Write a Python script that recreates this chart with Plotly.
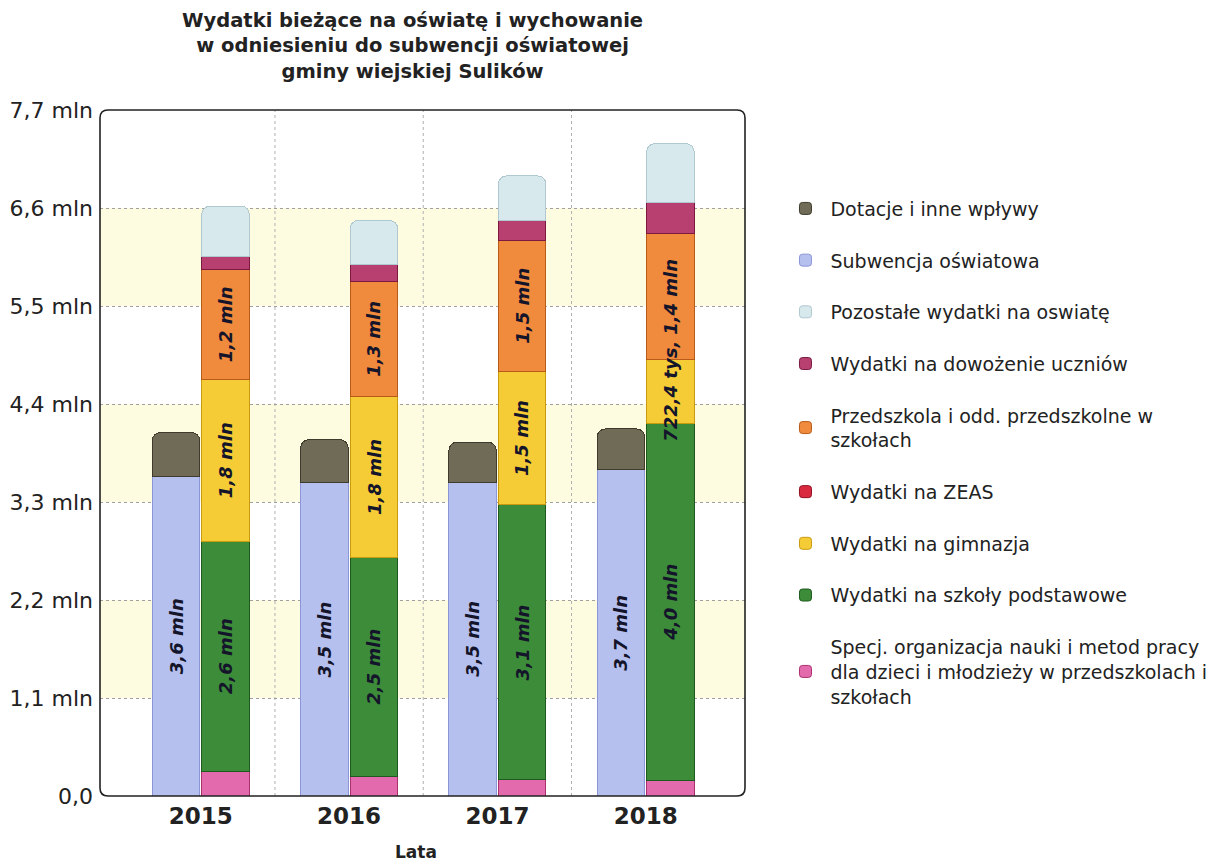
import plotly.graph_objects as go

years = ["2015", "2016", "2017", "2018"]

# values in mln PLN
subwencja = [3.59, 3.52, 3.52, 3.66]
dotacje = [0.49, 0.48, 0.45, 0.46]
specj = [0.27, 0.22, 0.18, 0.17]
podstawowe = [2.59, 2.46, 3.09, 4.01]
gimnazja = [1.81, 1.80, 1.50, 0.7224]
zeas = [0.0, 0.0, 0.0, 0.0]
przedszkola = [1.24, 1.30, 1.47, 1.41]
dowozenie = [0.15, 0.19, 0.22, 0.35]
pozostale = [0.56, 0.49, 0.50, 0.66]

ytick_vals = [0, 1.1, 2.2, 3.3, 4.4, 5.5, 6.6, 7.7]
ytick_text = ["0,0", "1,1 mln", "2,2 mln", "3,3 mln", "4,4 mln", "5,5 mln", "6,6 mln", "7,7 mln"]

FONT = "DejaVu Sans"
TXT = "#14142a"
AX = "#222222"


def fmt(v):
    if v >= 1:
        return f"{v:.1f} mln".replace(".", ",")
    return f"{v*1000:.1f} tys.".replace(".", ",")


idx = list(range(len(years)))
xl = [i - 0.167 for i in idx]
xr = [i + 0.167 for i in idx]
W = 0.32

fig = go.Figure()

# (name, values, color, line color, stack side, show labels)
series = [
    ("Specj. organizacja nauki i metod pracy<br>dla dzieci i młodzieży w przedszkolach i<br>szkołach", specj, "#e46aae", "#a8306e", "R", False),
    ("Wydatki na szkoły podstawowe", podstawowe, "#3c8c3a", "#1e5a1e", "R", True),
    ("Wydatki na gimnazja", gimnazja, "#f6cc36", "#c89a10", "R", True),
    ("Wydatki na ZEAS", zeas, "#d9293f", "#901020", "R", False),
    ("Przedszkola i odd. przedszkolne w<br>szkołach", przedszkola, "#f08a3c", "#b85a18", "R", True),
    ("Wydatki na dowożenie uczniów", dowozenie, "#b84070", "#7a1a40", "R", False),
    ("Pozostałe wydatki na oswiatę", pozostale, "#d8e9ed", "#b0c8cf", "R", False),
    ("Subwencja oświatowa", subwencja, "#b6c0ef", "#8a96d8", "L", True),
    ("Dotacje i inne wpływy", dotacje, "#6f6b56", "#3e3b2c", "L", False),
]

annotations = []
base = {"L": [0.0] * 4, "R": [0.0] * 4}
n = len(series)
for k, (name, vals, col, lcol, side, lab) in enumerate(series):
    xs = xl if side == "L" else xr
    fig.add_trace(go.Bar(
        name=name,
        x=xs,
        y=vals,
        width=W,
        marker=dict(color=col, line=dict(color=lcol, width=1)),
        legendgroup=f"g{k}",
        legendrank=n - k,
        hoverinfo="skip",
    ))
    if lab:
        for i, v in enumerate(vals):
            annotations.append(dict(
                x=xs[i], y=base[side][i] + v / 2, xref="x", yref="y",
                text=f"<b><i>{fmt(v)}</i></b>", textangle=-90, showarrow=False,
                font=dict(family=FONT, size=18, color=TXT),
            ))
    base[side] = [b + v for b, v in zip(base[side], vals)]

shapes = []
# horizontal bands
for y0, y1 in [(1.1, 2.2), (3.3, 4.4), (5.5, 6.6)]:
    shapes.append(dict(type="rect", xref="paper", yref="y", x0=0, x1=1, y0=y0, y1=y1,
                       fillcolor="#fdfbe0", line=dict(width=0), layer="below"))
# vertical separators
for xv in [0.5, 1.5, 2.5]:
    shapes.append(dict(type="line", xref="x", yref="paper", x0=xv, x1=xv, y0=0, y1=1,
                       line=dict(color="#b0b0b0", width=1, dash="dot"), layer="below"))
# rounded frame
pw, ph = 645.0, 686.0
rx, ry = 8 / pw, 8 / ph
path = (f"M {rx},0 L {1-rx},0 Q 1,0 1,{ry} L 1,{1-ry} Q 1,1 {1-rx},1 "
        f"L {rx},1 Q 0,1 0,{1-ry} L 0,{ry} Q 0,0 {rx},0 Z")
shapes.append(dict(type="path", xref="paper", yref="paper", path=path,
                   line=dict(color="#222222", width=1.6), layer="above"))

annotations.append(dict(
    text="<b>Wydatki bieżące na oświatę i wychowanie<br>w odniesieniu do subwencji oświatowej<br>gminy wiejskiej Sulików</b>",
    xref="paper", yref="paper", x=0.485, y=1 + 103 / ph, xanchor="center", yanchor="top",
    showarrow=False, align="center",
    font=dict(family=FONT, size=19.5, color=AX),
))
annotations.append(dict(
    text="<b>Lata</b>", xref="paper", yref="paper", x=0.49, y=-44 / ph,
    xanchor="center", yanchor="top", showarrow=False,
    font=dict(family=FONT, size=17, color=AX),
))

fig.update_layout(
    width=1216, height=863,
    margin=dict(l=92, r=479, t=102, b=75, autoexpand=False),
    barmode="stack",
    barcornerradius=8,
    plot_bgcolor="white",
    paper_bgcolor="white",
    font=dict(family=FONT, color=AX),
    xaxis=dict(
        range=[-0.68, 3.67],
        tickvals=idx, ticktext=[f"<b>{y}</b>" for y in years],
        tickfont=dict(family=FONT, size=23, color=AX),
        showgrid=False, zeroline=False, showline=False, ticks="",
        ticklabelstandoff=4, automargin=False,
    ),
    yaxis=dict(
        range=[0, 7.7],
        tickvals=ytick_vals, ticktext=ytick_text,
        tickfont=dict(family=FONT, size=22, color=AX),
        showgrid=True, gridcolor="#a0a0a0", griddash="dot", gridwidth=1,
        zeroline=False, showline=False, ticks="",
        ticklabelstandoff=6, automargin=False,
    ),
    legend=dict(
        x=1.055, xanchor="left", y=0.884, yanchor="top",
        font=dict(family=FONT, size=19, color=AX),
        tracegroupgap=24,
        traceorder="grouped",
        itemwidth=40,
    ),
    shapes=shapes,
    annotations=annotations,
)

fig.write_html("out.html")
